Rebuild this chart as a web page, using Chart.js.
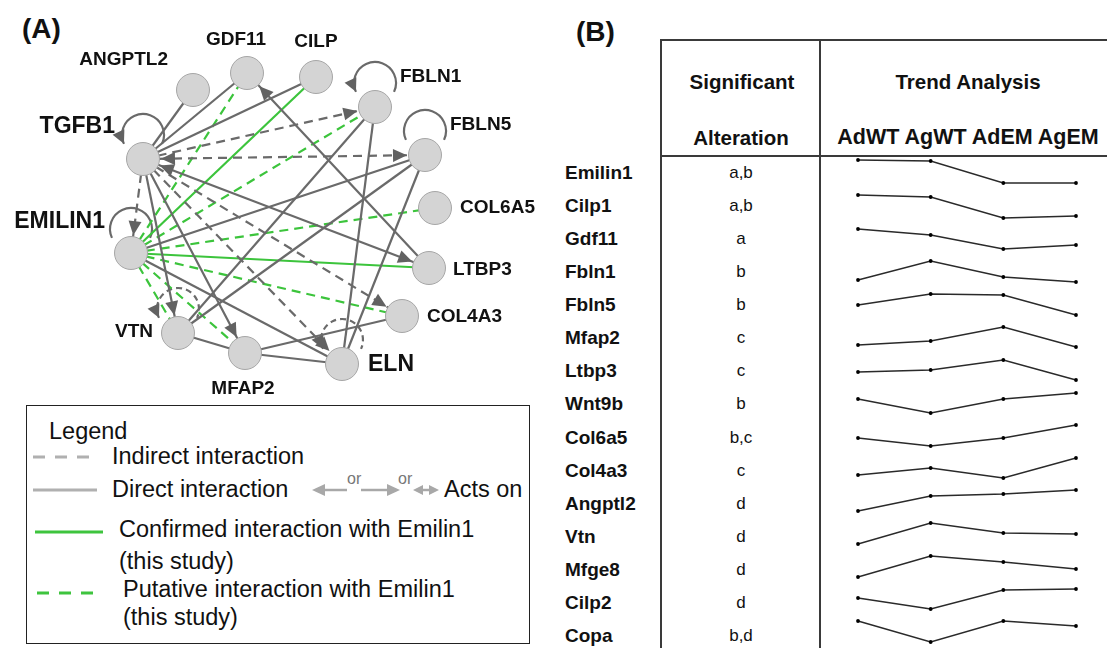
<!DOCTYPE html>
<html>
<head>
<meta charset="utf-8">
<title>Emilin1 interaction network and trend analysis</title>
<script src="https://cdn.jsdelivr.net/npm/chart.js@4.4.1/dist/chart.umd.min.js"></script>
<style>
  body { margin: 0; width: 1107px; height: 648px; position: relative; overflow: hidden; background: #fff;
         font-family: "Liberation Sans", Arial, sans-serif; color: #111; }
  .abs { position: absolute; white-space: nowrap; line-height: 1; }
  .mid { transform: translateY(-50%); }
  .ctr { transform: translate(-50%, -50%); }
  .panel { font-weight: bold; font-size: 28px; }
  .rule { position: absolute; background: #3a3a3a; }
  .leg { font-size: 23.5px; color: #111; }
  .gene { font-weight: bold; font-size: 19px; }
  .alt { font-size: 17px; }
  .head { font-weight: bold; font-size: 20.5px; }
</style>
</head>
<body>

<div class="abs mid panel" style="left:22px;top:29px">(A)</div>
<canvas id="network" width="560" height="400" style="position:absolute;left:0;top:0"></canvas>

<!-- legend of panel A -->
<div style="position:absolute;left:26px;top:405px;width:502px;height:237px;border:1.5px solid #222"></div>
<svg style="position:absolute;left:0;top:400px" width="560" height="248">
  <line x1="33" y1="57" x2="97" y2="57" stroke="#b0b0b0" stroke-width="3" stroke-dasharray="12 10"/>
  <line x1="33" y1="90" x2="97" y2="90" stroke="#b0b0b0" stroke-width="3"/>
  <line x1="35" y1="132" x2="103" y2="132" stroke="#3ec43e" stroke-width="3"/>
  <line x1="37" y1="193" x2="102" y2="193" stroke="#3ec43e" stroke-width="3" stroke-dasharray="12 10"/>
  <g fill="#a8a8a8" stroke="#a8a8a8" stroke-width="2.5">
    <line x1="322" y1="90" x2="347" y2="90"/>
    <polygon points="312,90 325,84 325,96" stroke="none"/>
    <line x1="361" y1="90" x2="390" y2="90"/>
    <polygon points="400,90 387,84 387,96" stroke="none"/>
    <line x1="420" y1="90" x2="432" y2="90"/>
    <polygon points="413,90 423,85 423,95" stroke="none"/>
    <polygon points="439,90 429,85 429,95" stroke="none"/>
  </g>
  <text x="347" y="84" font-size="16" fill="#777" font-family="Liberation Sans, Arial">or</text>
  <text x="398" y="84" font-size="16" fill="#777" font-family="Liberation Sans, Arial">or</text>
</svg>
<div class="abs mid leg" style="left:49px;top:432px">Legend</div>
<div class="abs mid leg" style="left:112px;top:457px">Indirect interaction</div>
<div class="abs mid leg" style="left:112px;top:490px">Direct interaction</div>
<div class="abs mid leg" style="left:444px;top:490px">Acts on</div>
<div class="abs mid leg" style="left:119px;top:530px">Confirmed interaction with Emilin1</div>
<div class="abs mid leg" style="left:119px;top:562px">(this study)</div>
<div class="abs mid leg" style="left:123px;top:590px">Putative interaction with Emilin1</div>
<div class="abs mid leg" style="left:123px;top:618px">(this study)</div>

<!-- panel B -->
<div class="abs mid panel" style="left:576px;top:32px">(B)</div>
<div class="rule" style="left:660px;top:39px;width:447px;height:1.5px"></div>
<div class="rule" style="left:660px;top:155px;width:447px;height:1.5px"></div>
<div class="rule" style="left:660px;top:39px;width:1.5px;height:609px"></div>
<div class="rule" style="left:819px;top:39px;width:1.5px;height:609px"></div>
<div class="abs ctr head" style="left:742px;top:82px">Significant</div>
<div class="abs ctr head" style="left:741px;top:138px">Alteration</div>
<div class="abs ctr head" style="left:968px;top:82px">Trend Analysis</div>
<div id="tableBody"></div>

<script>
// ---------- panel A : interaction network ----------
var nodeNames = ['TGFB1', 'ANGPTL2', 'GDF11', 'CILP', 'FBLN1', 'FBLN5', 'COL6A5',
                 'LTBP3', 'COL4A3', 'ELN', 'MFAP2', 'VTN', 'EMILIN1'];
var nodeX = [143, 193, 247, 316, 375, 425, 435, 429, 402, 342, 245, 178, 131];
var nodeY = [159, 90, 73, 77, 107, 155, 208, 268, 316, 364, 353, 333, 253];

var directEdges = [
  ['TGFB1', 'ANGPTL2'], ['TGFB1', 'GDF11'], ['TGFB1', 'CILP'], ['LTBP3', 'GDF11'],
  ['TGFB1', 'LTBP3'], ['TGFB1', 'VTN'], ['TGFB1', 'MFAP2'], ['FBLN1', 'ELN'],
  ['FBLN1', 'VTN'], ['FBLN5', 'ELN'], ['FBLN5', 'EMILIN1'], ['FBLN5', 'VTN'],
  ['EMILIN1', 'ELN'], ['VTN', 'MFAP2'], ['MFAP2', 'COL4A3'], ['MFAP2', 'ELN']
];
var indirectEdges = [
  ['TGFB1', 'FBLN1'], ['TGFB1', 'FBLN5'], ['TGFB1', 'COL4A3'], ['TGFB1', 'ELN'], ['TGFB1', 'EMILIN1']
];
var confirmedEdges = [['EMILIN1', 'CILP'], ['EMILIN1', 'LTBP3']];
var putativeEdges = [
  ['EMILIN1', 'GDF11'], ['EMILIN1', 'FBLN1'], ['EMILIN1', 'COL6A5'],
  ['EMILIN1', 'COL4A3'], ['EMILIN1', 'MFAP2'], ['EMILIN1', 'VTN']
];
// "acts on": arrow head at the second node
var arrowEdges = [
  ['LTBP3', 'GDF11'], ['TGFB1', 'LTBP3'], ['LTBP3', 'TGFB1'], ['TGFB1', 'VTN'],
  ['TGFB1', 'MFAP2'], ['TGFB1', 'FBLN1'], ['TGFB1', 'FBLN5'], ['FBLN5', 'TGFB1'],
  ['TGFB1', 'COL4A3'], ['TGFB1', 'ELN'], ['TGFB1', 'EMILIN1']
];
var selfLoops = ['TGFB1', 'FBLN1', 'FBLN5', 'EMILIN1', 'VTN', 'ELN'];
var dashedLoops = ['VTN', 'ELN'];
var loopArrows = ['TGFB1', 'FBLN1', 'VTN', 'ELN'];

// ---------- panel B : table ----------
var genes = ['Emilin1', 'Cilp1', 'Gdf11', 'Fbln1', 'Fbln5', 'Mfap2', 'Ltbp3', 'Wnt9b',
             'Col6a5', 'Col4a3', 'Angptl2', 'Vtn', 'Mfge8', 'Cilp2', 'Copa'];
var alterations = ['a,b', 'a,b', 'a', 'b', 'b', 'c', 'c', 'b', 'b,c', 'c', 'd', 'd', 'd', 'd', 'b,d'];
var conditions = ['AdWT', 'AgWT', 'AdEM', 'AgEM'];
var trends = [
  [12, 11, -11, -11],
  [10, 8, -13, -11],
  [9, 3, -11, -7],
  [-9, 10, -6, -11],
  [-1, 10, 9, -11],
  [-8, -4, 10, -10],
  [-2, 0, 10, -10],
  [4, -10, 4, 10],
  [-1, -9, -1, 12],
  [-5, 2, -8, 12],
  [-8, 7, 9, 13],
  [-8, 13, 3, 2],
  [-8, 13, 7, 0],
  [4, -7, 12, 13],
  [14, -7, 14, 9]
];

// ---------- styles / layout ----------
var edgeStyles = {
  direct:    { color: '#6a6a6a', dash: [] },
  indirect:  { color: '#6a6a6a', dash: [9, 6] },
  confirmed: { color: '#3cc43c', dash: [] },
  putative:  { color: '#3cc43c', dash: [9, 6] }
};
var NODE_R = 16.5;
// label anchor relative to node centre: dx, dy, font size, alignment
var labelLayout = {
  TGFB1:   [-28, -32, 23, 'right'],
  ANGPTL2: [-25, -30, 19, 'right'],
  GDF11:   [-11, -33, 19, 'center'],
  CILP:    [0, -35, 19, 'center'],
  FBLN1:   [25, -30, 19, 'left'],
  FBLN5:   [25, -30, 19, 'left'],
  COL6A5:  [25, 0, 19, 'left'],
  LTBP3:   [24, 2, 19, 'left'],
  COL4A3:  [25, 1, 19, 'left'],
  ELN:     [26, 1, 23, 'left'],
  MFAP2:   [-2, 36, 19, 'center'],
  VTN:     [-25, -1, 19, 'right'],
  EMILIN1: [-26, -31, 23, 'right']
};

function nodePoint(name) {
  var i = nodeNames.indexOf(name);
  return { x: nodeX[i], y: nodeY[i] };
}

var netDatasets = [{
  label: 'nodes',
  data: nodeNames.map(nodePoint),
  pointRadius: NODE_R,
  pointHoverRadius: NODE_R,
  backgroundColor: '#d4d4d4',
  borderColor: '#a6a6a6',
  borderWidth: 1,
  clip: false,
  order: 0
}];
[['direct', directEdges], ['indirect', indirectEdges], ['putative', putativeEdges], ['confirmed', confirmedEdges]]
  .forEach(function (group) {
    var st = edgeStyles[group[0]];
    group[1].forEach(function (e) {
      netDatasets.push({
        label: e[0] + '-' + e[1],
        data: [nodePoint(e[0]), nodePoint(e[1])],
        showLine: true,
        borderColor: st.color,
        borderDash: st.dash,
        borderWidth: 2.2,
        pointRadius: 0,
        pointHoverRadius: 0,
        clip: false,
        order: 1
      });
    });
  });

function arrowHead(ctx, tx, ty, dx, dy, len, half) {
  ctx.beginPath();
  ctx.moveTo(tx, ty);
  ctx.lineTo(tx - dx * len - dy * half, ty - dy * len + dx * half);
  ctx.lineTo(tx - dx * len + dy * half, ty - dy * len - dx * half);
  ctx.closePath();
  ctx.fill();
}

var networkDecor = {
  id: 'networkDecor',
  beforeDatasetsDraw: function (chart) {
    var ctx = chart.ctx, sx = chart.scales.x, sy = chart.scales.y;
    ctx.save();
    ctx.strokeStyle = '#6a6a6a';
    ctx.fillStyle = '#626262';
    ctx.lineWidth = 2.2;
    selfLoops.forEach(function (n) {
      var p = nodePoint(n);
      var cx = sx.getPixelForValue(p.x), cy = sy.getPixelForValue(p.y) - 24, r = 21;
      var a0 = 155 * Math.PI / 180, a1 = 385 * Math.PI / 180;
      ctx.setLineDash(dashedLoops.indexOf(n) >= 0 ? [6, 4] : []);
      ctx.beginPath();
      ctx.arc(cx, cy, r, a0, a1);
      ctx.stroke();
      if (loopArrows.indexOf(n) >= 0) {
        ctx.setLineDash([]);
        arrowHead(ctx, cx + r * Math.cos(a0), cy + r * Math.sin(a0), Math.sin(a0), -Math.cos(a0), 13, 6.5);
      }
    });
    ctx.restore();
  },
  afterDatasetsDraw: function (chart) {
    var ctx = chart.ctx, sx = chart.scales.x, sy = chart.scales.y;
    ctx.save();
    ctx.fillStyle = '#626262';
    arrowEdges.forEach(function (e) {
      var a = nodePoint(e[0]), b = nodePoint(e[1]);
      var ax = sx.getPixelForValue(a.x), ay = sy.getPixelForValue(a.y);
      var bx = sx.getPixelForValue(b.x), by = sy.getPixelForValue(b.y);
      var L = Math.hypot(bx - ax, by - ay), dx = (bx - ax) / L, dy = (by - ay) / L;
      arrowHead(ctx, bx - dx * (NODE_R + 1.5), by - dy * (NODE_R + 1.5), dx, dy, 14, 6.5);
    });
    ctx.fillStyle = '#111';
    ctx.textBaseline = 'middle';
    nodeNames.forEach(function (n) {
      var lay = labelLayout[n], p = nodePoint(n);
      ctx.font = 'bold ' + lay[2] + 'px "Liberation Sans", Arial, sans-serif';
      ctx.textAlign = lay[3];
      ctx.fillText(n, sx.getPixelForValue(p.x) + lay[0], sy.getPixelForValue(p.y) + lay[1]);
    });
    ctx.restore();
  }
};

new Chart(document.getElementById('network').getContext('2d'), {
  type: 'scatter',
  data: { datasets: netDatasets },
  options: {
    responsive: false,
    animation: false,
    events: [],
    layout: { padding: 0, autoPadding: false },
    plugins: { legend: { display: false }, tooltip: { enabled: false } },
    scales: {
      x: { type: 'linear', min: 0, max: 560, display: false },
      y: { type: 'linear', min: 0, max: 400, reverse: true, display: false }
    }
  },
  plugins: [networkDecor]
});

// ---------- panel B : rows with sparklines ----------
var ROW0 = 172, ROW_H = 33.07, TREND_LEFT = 858, TREND_RIGHT = 1076;
var body = document.getElementById('tableBody');
var condHead = document.createElement('div');
condHead.className = 'abs ctr head';
condHead.style.left = '968px';
condHead.style.top = '138px';
condHead.style.fontSize = '21.5px';
condHead.textContent = conditions.join(' ');
body.appendChild(condHead);

genes.forEach(function (g, i) {
  var cy = ROW0 + i * ROW_H;
  var name = document.createElement('div');
  name.className = 'abs mid gene';
  name.style.left = '565px';
  name.style.top = cy + 'px';
  name.textContent = g;
  body.appendChild(name);

  var alt = document.createElement('div');
  alt.className = 'abs ctr alt';
  alt.style.left = '741px';
  alt.style.top = cy + 'px';
  alt.textContent = alterations[i];
  body.appendChild(alt);

  var cv = document.createElement('canvas');
  cv.width = (TREND_RIGHT - TREND_LEFT) + 16;
  cv.height = 40;
  cv.style.position = 'absolute';
  cv.style.left = (TREND_LEFT - 8) + 'px';
  cv.style.top = (cy - 20) + 'px';
  body.appendChild(cv);

  new Chart(cv.getContext('2d'), {
    type: 'line',
    data: {
      labels: conditions,
      datasets: [{
        label: g,
        data: trends[i],
        borderColor: '#2a2a2a',
        borderWidth: 1.4,
        pointRadius: 1.9,
        pointBackgroundColor: '#000',
        pointBorderWidth: 0,
        tension: 0,
        clip: false
      }]
    },
    options: {
      responsive: false,
      animation: false,
      events: [],
      layout: { padding: { left: 8, right: 8, top: 0, bottom: 0 }, autoPadding: false },
      plugins: { legend: { display: false }, tooltip: { enabled: false } },
      scales: {
        x: { display: false, offset: false },
        y: { display: false, min: -20, max: 20 }
      }
    }
  });
});
</script>
</body>
</html>
